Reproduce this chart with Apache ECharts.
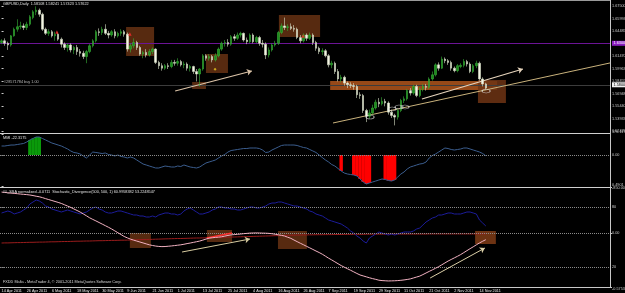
<!DOCTYPE html>
<html>
<head>
<meta charset="utf-8">
<script src="https://cdn.jsdelivr.net/npm/echarts@6/dist/echarts.min.js"></script>
<style>
  html, body { margin: 0; padding: 0; background: #000; }
  #chart { width: 625px; height: 293px; }
</style>
</head>
<body>
<div id="chart"></div>
<script>
// GBPUSD daily, 14 Apr 2011 .. 16 Nov 2011 (one row per bar: open, close, low, high)
const candles = [
  [1.6310,1.6330,1.6290,1.6350],[1.6330,1.6300,1.6270,1.6360],[1.6300,1.6280,1.6220,1.6320],[1.6280,1.6390,1.6260,1.6400],[1.6390,1.6470,1.6380,1.6490],
  [1.6470,1.6500,1.6440,1.6590],[1.6500,1.6510,1.6470,1.6560],[1.6510,1.6490,1.6460,1.6540],[1.6490,1.6530,1.6460,1.6560],[1.6530,1.6620,1.6510,1.6640],
  [1.6610,1.6680,1.6590,1.6700],[1.6680,1.6700,1.6640,1.6746],[1.6700,1.6650,1.6620,1.6720],[1.6650,1.6470,1.6450,1.6670],[1.6470,1.6420,1.6400,1.6490],
  [1.6420,1.6440,1.6390,1.6470],[1.6440,1.6390,1.6370,1.6460],[1.6390,1.6410,1.6330,1.6440],[1.6410,1.6350,1.6330,1.6430],[1.6350,1.6290,1.6250,1.6370],
  [1.6290,1.6250,1.6220,1.6310],[1.6250,1.6280,1.6200,1.6300],[1.6280,1.6220,1.6190,1.6300],[1.6220,1.6250,1.6170,1.6270],[1.6250,1.6200,1.6160,1.6280],
  [1.6200,1.6180,1.6140,1.6230],[1.6180,1.6140,1.6110,1.6210],[1.6140,1.6200,1.6060,1.6220],[1.6200,1.6270,1.6180,1.6290],[1.6270,1.6330,1.6250,1.6350],
  [1.6330,1.6440,1.6310,1.6460],[1.6440,1.6430,1.6390,1.6480],[1.6430,1.6470,1.6400,1.6500],[1.6470,1.6420,1.6400,1.6530],[1.6420,1.6400,1.6360,1.6450],
  [1.6400,1.6440,1.6380,1.6460],[1.6440,1.6390,1.6360,1.6470],[1.6390,1.6420,1.6370,1.6440],[1.6420,1.6440,1.6390,1.6470],[1.6440,1.6410,1.6380,1.6460],
  [1.6410,1.6230,1.6200,1.6430],[1.6230,1.6270,1.6190,1.6300],[1.6270,1.6310,1.6240,1.6360],[1.6310,1.6250,1.6220,1.6330],[1.6250,1.6170,1.6150,1.6270],
  [1.6170,1.6190,1.6120,1.6210],[1.6190,1.6160,1.6130,1.6230],[1.6160,1.6200,1.6140,1.6230],[1.6200,1.6230,1.6170,1.6250],[1.6230,1.6070,1.6050,1.6240],
  [1.6070,1.6030,1.5990,1.6090],[1.6030,1.6000,1.5970,1.6060],[1.6000,1.6030,1.5980,1.6050],[1.6030,1.6020,1.5990,1.6060],[1.6020,1.6070,1.6000,1.6100],
  [1.6070,1.6060,1.6030,1.6100],[1.6060,1.6080,1.6030,1.6120],[1.6080,1.6040,1.6020,1.6100],[1.6040,1.6050,1.6000,1.6080],[1.6050,1.6000,1.5970,1.6070],
  [1.6000,1.6020,1.5960,1.6040],[1.6020,1.5960,1.5930,1.6030],[1.5960,1.5930,1.5840,1.5990],[1.5930,1.5990,1.5780,1.6000],[1.5990,1.6150,1.5970,1.6170],
  [1.6150,1.6120,1.6090,1.6170],[1.6120,1.6140,1.6090,1.6170],[1.6140,1.6100,1.6070,1.6160],[1.6100,1.6150,1.6080,1.6180],[1.6150,1.6230,1.6130,1.6250],
  [1.6230,1.6300,1.6210,1.6320],[1.6300,1.6310,1.6260,1.6340],[1.6310,1.6290,1.6260,1.6350],[1.6290,1.6380,1.6270,1.6400],[1.6380,1.6360,1.6330,1.6410],
  [1.6360,1.6400,1.6340,1.6430],[1.6400,1.6420,1.6370,1.6440],[1.6420,1.6340,1.6320,1.6430],[1.6340,1.6320,1.6290,1.6370],[1.6320,1.6400,1.6300,1.6420],
  [1.6400,1.6320,1.6300,1.6420],[1.6320,1.6370,1.6300,1.6390],[1.6370,1.6300,1.6270,1.6390],[1.6300,1.6290,1.6250,1.6340],[1.6290,1.6160,1.6110,1.6310],
  [1.6160,1.6220,1.6130,1.6250],[1.6220,1.6280,1.6200,1.6300],[1.6280,1.6300,1.6260,1.6330],[1.6300,1.6430,1.6280,1.6450],[1.6430,1.6510,1.6410,1.6540],
  [1.6510,1.6490,1.6460,1.6610],[1.6490,1.6500,1.6450,1.6530],[1.6500,1.6480,1.6460,1.6540],[1.6480,1.6470,1.6440,1.6520],[1.6470,1.6370,1.6350,1.6490],
  [1.6370,1.6330,1.6300,1.6400],[1.6330,1.6400,1.6310,1.6420],[1.6400,1.6360,1.6330,1.6420],[1.6360,1.6400,1.6340,1.6430],[1.6400,1.6310,1.6280,1.6420],
  [1.6310,1.6240,1.6210,1.6330],[1.6240,1.6200,1.6170,1.6260],[1.6200,1.6210,1.6160,1.6240],[1.6210,1.6150,1.6130,1.6230],[1.6150,1.6040,1.6010,1.6170],
  [1.6040,1.6060,1.6000,1.6090],[1.6060,1.5960,1.5930,1.6080],[1.5960,1.5870,1.5840,1.5990],[1.5870,1.5890,1.5830,1.5920],[1.5890,1.5820,1.5790,1.5910],
  [1.5820,1.5800,1.5760,1.5840],[1.5800,1.5790,1.5760,1.5830],[1.5790,1.5780,1.5740,1.5820],[1.5780,1.5680,1.5640,1.5800],[1.5680,1.5670,1.5630,1.5710],
  [1.5670,1.5490,1.5460,1.5690],[1.5490,1.5420,1.5350,1.5510],[1.5420,1.5460,1.5390,1.5500],[1.5460,1.5520,1.5440,1.5560],[1.5520,1.5590,1.5500,1.5620],
  [1.5590,1.5570,1.5530,1.5640],[1.5570,1.5600,1.5550,1.5650],[1.5600,1.5580,1.5540,1.5630],[1.5580,1.5470,1.5440,1.5600],[1.5470,1.5430,1.5400,1.5500],
  [1.5430,1.5410,1.5310,1.5450],[1.5410,1.5490,1.5380,1.5510],[1.5490,1.5610,1.5470,1.5630],[1.5610,1.5630,1.5580,1.5660],[1.5630,1.5730,1.5610,1.5750],
  [1.5730,1.5700,1.5670,1.5760],[1.5700,1.5780,1.5680,1.5800],[1.5780,1.5670,1.5650,1.5800],[1.5670,1.5750,1.5650,1.5770],[1.5750,1.5780,1.5720,1.5810],
  [1.5780,1.5770,1.5730,1.5810],[1.5770,1.5870,1.5750,1.5890],[1.5870,1.5920,1.5850,1.5960],[1.5920,1.6040,1.5900,1.6060],[1.6040,1.6000,1.5970,1.6070],
  [1.6000,1.6110,1.5990,1.6140],[1.6110,1.6090,1.6060,1.6130],[1.6090,1.6070,1.6040,1.6110],[1.6070,1.6000,1.5970,1.6090],[1.6000,1.5970,1.5950,1.6020],
  [1.5970,1.6030,1.5950,1.6050],[1.6020,1.6035,1.6000,1.6060],[1.6035,1.6080,1.6010,1.6110],[1.6080,1.6050,1.6020,1.6100],[1.6050,1.5960,1.5940,1.6070],
  [1.5960,1.6030,1.5940,1.6050],[1.6030,1.6060,1.6000,1.6090],[1.6060,1.5870,1.5850,1.6080],[1.5870,1.5810,1.5780,1.5890],[1.58108,1.57622,1.57423,1.58241]
];

// MMI indicator (window 1)
const mmiLine = [
  247,247,261,274,274,288,302,316,357,412,
  453,494,494,453,412,370,329,302,274,247,
  206,165,110,69,55,27,-27,-82,0,82,
  69,55,41,55,14,0,-27,0,-41,-55,
  -82,-55,-82,-137,-192,-247,-274,-302,-329,-356,
  -356,-329,-302,-315,-329,-329,-302,-315,-274,-302,
  -329,-343,-356,-329,-274,-219,-192,-165,-137,-82,
  -27,14,82,123,137,151,165,178,178,192,
  192,192,178,137,69,82,137,178,219,261,
  274,274,274,274,261,233,206,192,151,110,
  69,0,-69,-137,-192,-261,-302,-370,-439,-494,
  -521,-535,-548,-576,-658,-740,-795,-768,-740,-713,
  -685,-658,-672,-699,-713,-685,-603,-521,-466,-384,
  -329,-302,-274,-247,-233,-192,-82,-14,27,82,
  137,192,178,151,137,151,165,192,192,165,
  137,110,82,41,-22.3175
];
const mmiUpBars = [[9,412],[10,453],[11,494],[12,494]];
const mmiDownBars = [[108,-439],[112,-548],[113,-576],[114,-658],[115,-740],[116,-795],[117,-768],
  [122,-672],[123,-699],[124,-713],[125,-685]];

// Stochastic_Divergence main and signal (window 2, 0..100)
const stochMain = [
  74,75,76,75,73,74,75,77,79,83,
  85,87,86,84,81,80,78,77,76,75,
  76,77,76,75,74,73,74,75,77,79,
  80,78,77,75,74,74,75,76,76,75,
  74,73,72,72,71,71,70,70,71,70,
  72,73,74,74,73,73,72,73,76,78,
  79,77,75,73,73,74,75,77,78,80,
  80,79,79,78,78,77,77,78,79,80,
  80,79,79,80,81,83,84,84,85,85,
  84,83,82,81,81,80,79,78,76,75,
  73,72,71,69,67,66,65,64,63,61,
  59,56,54,51,49,46,44,49,51,53,
  55,54,53,52,53,52,53,54,55,55,
  55,56,58,59,62,65,67,69,70,72,
  72,73,74,74,73,73,73,74,75,75,
  74,73,67,64,61.0
];
const stochSignal = [
  44.0,44.1,44.1,44.2,44.3,44.4,44.4,44.5,44.6,44.7,
  44.7,44.8,44.9,44.9,45.0,45.1,45.2,45.2,45.3,45.4,
  45.5,45.5,45.6,45.7,45.8,45.8,45.9,46.0,46.0,46.1,
  46.2,46.3,46.3,46.4,46.5,46.6,46.6,46.7,46.8,46.8,
  46.9,47.0,47.1,47.2,47.3,47.4,47.5,47.6,47.7,47.8,
  47.9,48.0,48.1,48.2,48.3,48.4,48.5,48.5,48.6,48.7,
  48.8,48.9,49.0,49.0,49.1,49.2,49.3,49.4,49.5,49.6,
  49.7,49.8,49.9,50.0,50.0,50.1,50.2,50.3,50.4,50.5,
  50.6,50.7,50.8,50.9,51.0,51.1,51.2,51.3,51.4,51.5,
  51.6,51.7,51.8,51.9,52.0,52.0,52.1,52.1,52.2,52.2,
  52.3,52.3,52.3,52.4,52.4,52.4,52.5,52.5,52.5,52.6,
  52.6,52.6,52.7,52.7,52.7,52.7,52.8,52.8,52.8,52.8,
  52.9,52.9,52.9,52.9,53.0,53.0,53.0,53.0,53.0,53.0,
  53.0,53.0,53.0,53.0,53.0,53.0,53.1,53.1,53.1,53.1,
  53.1,53.1,53.1,53.1,53.1,53.1,53.1,53.1,53.1,53.1,
  53.1,53.1,53.1,53.2,53.2
];
// SSA normalized (window 2, own scale)
const ssaLine = [
  .436,.432,.429,.425,.422,.419,.415,.412,.409,.405,
  .399,.392,.386,.377,.366,.356,.346,.336,.326,.315,
  .301,.287,.273,.256,.240,.223,.203,.183,.162,.145,
  .129,.112,.095,.078,.061,.043,.023,.003,-.017,-.037,
  -.052,-.065,-.076,-.086,-.096,-.106,-.116,-.126,-.133,-.139,
  -.143,-.145,-.144,-.141,-.138,-.134,-.130,-.126,-.120,-.113,
  -.107,-.100,-.093,-.086,-.076,-.065,-.055,-.051,-.047,-.044,
  -.040,-.033,-.026,-.020,-.017,-.014,-.011,-.007,-.004,-.001,
  0,.001,0,-.001,-.002,-.004,-.008,-.013,-.019,-.025,
  -.032,-.045,-.057,-.075,-.092,-.109,-.125,-.142,-.158,-.175,
  -.192,-.208,-.226,-.247,-.268,-.287,-.307,-.327,-.347,-.364,
  -.381,-.397,-.414,-.431,-.447,-.457,-.467,-.477,-.486,-.494,
  -.503,-.507,-.509,-.511,-.510,-.509,-.507,-.504,-.500,-.495,
  -.489,-.479,-.469,-.459,-.443,-.426,-.409,-.393,-.376,-.359,
  -.339,-.319,-.299,-.282,-.265,-.248,-.230,-.209,-.188,-.167,
  -.147,-.126,-.106,-.088,-.0711
];

// axis ticks
const dateLabels = ['14 Apr 2011','26 Apr 2011','6 May 2011','18 May 2011','30 May 2011','9 Jun 2011',
  '21 Jun 2011','1 Jul 2011','13 Jul 2011','25 Jul 2011','4 Aug 2011','16 Aug 2011','26 Aug 2011',
  '7 Sep 2011','19 Sep 2011','29 Sep 2011','11 Oct 2011','21 Oct 2011','2 Nov 2011','14 Nov 2011'];
const priceTicks = [1.67500,1.65993,1.64485,1.62978,1.61470,1.59963,1.58455,1.56948,1.55440,1.53933,1.52425];
const mmiTicks = [576.117, 0, -850.000];
const stochLevels = [80, 20];
const ssaTicks = [0.4901, 0, -0.5753];

// levels on the price chart
const purpleLevel = 1.6292;
const bidPrice = 1.57622;
const orderLevels = [1.5821, 1.5784];

// drawn objects, in (bar index, price) / (bar index, stochastic) units
const mainBoxes = [[39.6,1.6497,48.5,1.6147],[65.0,1.6171,72.0,1.5942],[88.2,1.6641,101.3,1.6376],
  [60.6,1.5833,65.0,1.5749],[104.5,1.5845,157.6,1.5737],[151.5,1.5858,160.4,1.5580]];
const mainTrendLines = [[55.2,1.5725,79.6,1.5966],[105.4,1.5339,193.5,1.6063],[133.7,1.5628,165.8,1.5990]];
const ellipses = [[117.2,1.5411],[124.2,1.5508],[126.4,1.5532],[128.3,1.5532],[154.1,1.5725]];
const arrowMarks = [[17.6,1.6436],[40.8,1.6412],[95.9,1.6388]];
const crossMarks = [[67.9,1.5987]];
const stochBoxes = [[40.8,54,47.5,39],[65.3,57,73.3,45],[87.9,56,97.1,38],[150.6,56,157.2,43]];
const stochTrendLines = [[65.3,49,73.3,54],[57.4,35,79.0,48],[136.3,9,153.7,39]];

const slotCount = 194;   // bars + empty shift on the right
const labelStep = 8;

const slots = [];
for (let i = 0; i < slotCount; i++) slots.push(String(i));

const FONT = 'Liberation Sans';
const tiny = 3.8;
const axisGray = '#c8c8c8';

const chart = echarts.init(document.getElementById('chart'));

const showDate = (i) => i % labelStep === 0 && i / labelStep < dateLabels.length;

function boxData(list, colors) {
    return list.map((b, k) => [
        { coord: [b[0], b[1]], itemStyle: { color: colors[k] } },
        { coord: [b[2], b[3]] }
    ]);
}
function segment(l, arrow) {
    return [
        { coord: [l[0], l[1]], symbol: 'none' },
        { coord: [l[2], l[3]], symbol: arrow ? 'arrow' : 'none', symbolSize: 5 }
    ];
}
// one empty series per drawn object style, so every object keeps its own colour
function objectSeries(xIdx, yIdx, z, markLine, extra) {
    return Object.assign({ type: 'scatter', xAxisIndex: xIdx, yAxisIndex: yIdx, data: [], z: z, silent: true,
        markLine: Object.assign({ silent: true, symbol: 'none', label: { show: false } }, markLine) }, extra || {});
}
function levelLine(yIdx, value, color, type, label) {
    return objectSeries(3, yIdx, 4, {
        lineStyle: { color: color, width: 1, type: type, opacity: 1 },
        label: label || { show: false },
        data: [{ yAxis: value }]
    });
}
const priceTag = (fg, bg) => ({ show: true, position: 'end', distance: 2, formatter: p => p.value.toFixed(5),
    color: fg, backgroundColor: bg, padding: [0.5, 1.5], fontSize: tiny, fontFamily: FONT });

const boxBrown = 'rgba(112,54,20,0.78)';
const boxOrange = 'rgba(176,86,28,0.85)';

const option = {
    backgroundColor: '#000',
    animation: false,
    grid: [
        { left: 0, width: 610, top: 6, height: 125, outerBoundsMode: 'none', containLabel: false },
        { left: 0, width: 610, top: 134, height: 52, outerBoundsMode: 'none', containLabel: false },
        { left: 0, width: 610, top: 187, height: 100, outerBoundsMode: 'none', containLabel: false }
    ],
    xAxis: [
        { type: 'category', gridIndex: 0, data: slots, show: false },
        { type: 'category', gridIndex: 1, data: slots, show: false },
        {
            type: 'category', gridIndex: 2, data: slots,
            axisLine: { lineStyle: { color: axisGray, width: 1 } },
            axisTick: { alignWithLabel: true, interval: showDate, length: 3, lineStyle: { color: axisGray } },
            axisLabel: {
                interval: showDate, align: 'left', margin: 1.5,
                color: '#e8e8e8', fontSize: tiny, fontFamily: FONT,
                formatter: (v, i) => showDate(i) ? dateLabels[i / labelStep] : ''
            }
        },
        { type: 'value', gridIndex: 0, min: -0.5, max: slotCount - 0.5, show: false },
        { type: 'value', gridIndex: 2, min: -0.5, max: slotCount - 0.5, show: false },
        { type: 'value', gridIndex: 1, min: -0.5, max: slotCount - 0.5, show: false }
    ],
    yAxis: [
        {
            type: 'value', gridIndex: 0, position: 'right', min: 1.52425, max: 1.675,
            axisLine: { show: false }, splitLine: { show: false },
            axisTick: { show: true, customValues: priceTicks, length: 2, lineStyle: { color: axisGray } },
            axisLabel: { customValues: priceTicks, margin: 2, color: axisGray, fontSize: tiny, fontFamily: FONT,
                formatter: v => v.toFixed(5) }
        },
        {
            type: 'value', gridIndex: 1, position: 'right', min: -850, max: 576.117,
            axisLine: { show: false }, splitLine: { show: false },
            axisTick: { show: true, customValues: mmiTicks, length: 2, lineStyle: { color: axisGray } },
            axisLabel: { customValues: mmiTicks, margin: 2, color: axisGray, fontSize: tiny, fontFamily: FONT,
                verticalAlignMaxLabel: 'top', verticalAlignMinLabel: 'bottom',
                formatter: v => v === 0 ? '0.00' : v.toFixed(3) }
        },
        {
            type: 'value', gridIndex: 2, position: 'right', min: 0, max: 100,
            axisLine: { show: false }, splitLine: { show: false },
            axisTick: { show: true, customValues: stochLevels, length: 2, lineStyle: { color: axisGray } },
            axisLabel: { customValues: stochLevels, margin: 2, color: axisGray, fontSize: tiny, fontFamily: FONT,
                formatter: v => String(v) }
        },
        {
            type: 'value', gridIndex: 2, position: 'right', min: -0.5753, max: 0.4901,
            axisLine: { show: false }, splitLine: { show: false },
            axisTick: { show: true, customValues: ssaTicks, length: 2, lineStyle: { color: axisGray } },
            axisLabel: { customValues: ssaTicks, margin: 2, color: axisGray, fontSize: tiny, fontFamily: FONT,
                verticalAlignMaxLabel: 'top', verticalAlignMinLabel: 'bottom',
                formatter: v => v === 0 ? '0.00' : v.toFixed(4) }
        }
    ],
    series: [
        // rectangles behind the candles
        {
            type: 'scatter', xAxisIndex: 3, yAxisIndex: 0, data: [], z: 1, silent: true,
            markArea: { silent: true, data: boxData(mainBoxes, [boxBrown, boxBrown, boxBrown, boxBrown, boxOrange, 'rgba(110,52,20,0.85)']) }
        },
        levelLine(0, orderLevels[0], '#6e8f6e', [4, 2, 1, 2]),
        levelLine(0, orderLevels[1], '#7c9a7c', [4, 2, 1, 2]),
        levelLine(0, purpleLevel, '#6c1496', 'solid', priceTag('#fff', '#8a1ec0')),
        levelLine(0, bidPrice, '#3c3c3c', 'solid', priceTag('#000', '#f0f0f0')),
        {
            type: 'candlestick', xAxisIndex: 0, yAxisIndex: 0, data: candles, z: 5,
            barWidth: 2,
            itemStyle: {
                color: '#1e8a1e', color0: '#f4f4e4',
                borderColor: '#38b038', borderColor0: '#d8e0c8', borderWidth: 0.6
            }
        },
        // trend lines on the price chart
        objectSeries(3, 0, 6, { lineStyle: { color: '#dcc4a8', width: 1.2, type: 'solid' }, data: [segment(mainTrendLines[0], true)] },
            { itemStyle: { color: '#e8967e' } }),
        objectSeries(3, 0, 6, { lineStyle: { color: '#c9b27c', width: 1, type: 'solid' }, data: [segment(mainTrendLines[1], false)] }),
        objectSeries(3, 0, 6, { lineStyle: { color: '#e6d4bc', width: 1.2, type: 'solid' }, data: [segment(mainTrendLines[2], true)] },
            { itemStyle: { color: '#e8967e' } }),
        {
            type: 'scatter', xAxisIndex: 3, yAxisIndex: 0, data: ellipses, z: 7, silent: true,
            symbol: 'circle', symbolSize: [8, 4],
            itemStyle: { color: 'rgba(0,0,0,0)', borderColor: '#e6e6e6', borderWidth: 0.8 }
        },
        {
            type: 'scatter', xAxisIndex: 3, yAxisIndex: 0, data: arrowMarks, z: 7, silent: true,
            symbol: 'triangle', symbolSize: 3.5, itemStyle: { color: '#ff2a2a' }
        },
        {
            type: 'scatter', xAxisIndex: 3, yAxisIndex: 0, data: crossMarks, z: 7, silent: true,
            symbol: 'diamond', symbolSize: 3, itemStyle: { color: '#e8c820' }
        },
        // MMI window
        {
            type: 'bar', xAxisIndex: 1, yAxisIndex: 1, data: mmiUpBars, barWidth: 3.4, barGap: '-100%',
            itemStyle: { color: '#0a9a0a' }, z: 1, silent: true
        },
        {
            type: 'bar', xAxisIndex: 1, yAxisIndex: 1, data: mmiDownBars, barWidth: 3.4, barGap: '-100%',
            itemStyle: { color: '#ff0000' }, z: 1, silent: true
        },
        objectSeries(5, 1, 2, { lineStyle: { color: '#8a8a8a', width: 1, type: 'dotted' }, data: [{ yAxis: 0 }] }),
        {
            type: 'line', xAxisIndex: 1, yAxisIndex: 1, data: mmiLine, showSymbol: false, z: 3, silent: true,
            lineStyle: { color: '#3b5d8e', width: 1 }
        },
        // stochastic window
        {
            type: 'scatter', xAxisIndex: 4, yAxisIndex: 2, data: [], z: 1, silent: true,
            markArea: { silent: true, data: boxData(stochBoxes, [boxBrown, boxBrown, boxBrown, 'rgba(128,60,22,0.85)']) }
        },
        objectSeries(4, 2, 2, { lineStyle: { color: '#8a8a8a', width: 1, type: 'dotted' }, data: stochLevels.map(v => ({ yAxis: v })) }),
        objectSeries(4, 3, 2, { lineStyle: { color: '#8a8a8a', width: 1, type: 'dotted' }, data: [{ yAxis: 0 }] }),
        {
            type: 'line', xAxisIndex: 2, yAxisIndex: 2, data: stochSignal, showSymbol: false, z: 3, silent: true,
            lineStyle: { color: '#9a1c1c', width: 1 }
        },
        {
            type: 'line', xAxisIndex: 2, yAxisIndex: 2, data: stochMain, showSymbol: false, z: 4, silent: true,
            lineStyle: { color: '#1c1c9a', width: 1 }
        },
        {
            type: 'line', xAxisIndex: 2, yAxisIndex: 3, data: ssaLine, showSymbol: false, z: 5, silent: true,
            lineStyle: { color: '#f2b2c2', width: 1 }
        },
        objectSeries(4, 2, 6, { lineStyle: { color: '#ff3030', width: 1.5, type: 'solid' }, data: [segment(stochTrendLines[0], false)] }),
        objectSeries(4, 2, 6, { lineStyle: { color: '#d8cca0', width: 1, type: 'solid' }, data: [segment(stochTrendLines[1], true)] }),
        objectSeries(4, 2, 6, { lineStyle: { color: '#dcd0a8', width: 1, type: 'solid' }, data: [segment(stochTrendLines[2], true)] })
    ],
    graphic: [
        { type: 'line', silent: true, z: 20, shape: { x1: 0, y1: 0.5, x2: 610, y2: 0.5 }, style: { stroke: '#9a9a9a', lineWidth: 1 } },
        { type: 'line', silent: true, z: 20, shape: { x1: 0, y1: 133.5, x2: 610, y2: 133.5 }, style: { stroke: '#d0d0d0', lineWidth: 1.2 } },
        { type: 'line', silent: true, z: 20, shape: { x1: 0, y1: 187.5, x2: 610, y2: 187.5 }, style: { stroke: '#d0d0d0', lineWidth: 1.2 } },
        { type: 'line', silent: true, z: 20, shape: { x1: 610.5, y1: 0, x2: 610.5, y2: 287 }, style: { stroke: axisGray, lineWidth: 1 } },
        { type: 'text', silent: true, z: 20, left: 3, top: 2,
          style: { text: 'GBPUSD,Daily  1.58108 1.58241 1.57423 1.57622', fill: '#e0e0e0', fontSize: tiny, fontFamily: FONT } },
        { type: 'text', silent: true, z: 20, left: 4, top: 79.5,
          style: { text: '#28571784 buy 1.00', fill: '#b8b8b8', fontSize: tiny, fontFamily: FONT } },
        { type: 'text', silent: true, z: 20, left: 3, top: 135.5,
          style: { text: 'MMI -22.3175', fill: '#e0e0e0', fontSize: tiny, fontFamily: FONT } },
        { type: 'text', silent: true, z: 20, left: 3, top: 189.5,
          style: { text: '##_SSA normalized -0.0711  Stochastic_Divergence(500, 500, 1) 60.9958382 53.2248547', fill: '#e0e0e0', fontSize: tiny, fontFamily: FONT } },
        { type: 'text', silent: true, z: 20, left: 3, top: 280,
          style: { text: 'FXDD Malta - MetaTrader 4, \u00a9 2001-2011 MetaQuotes Software Corp.', fill: '#d8d8d8', fontSize: tiny, fontFamily: FONT } }
    ]
};

chart.setOption(option);
</script>
</body>
</html>
